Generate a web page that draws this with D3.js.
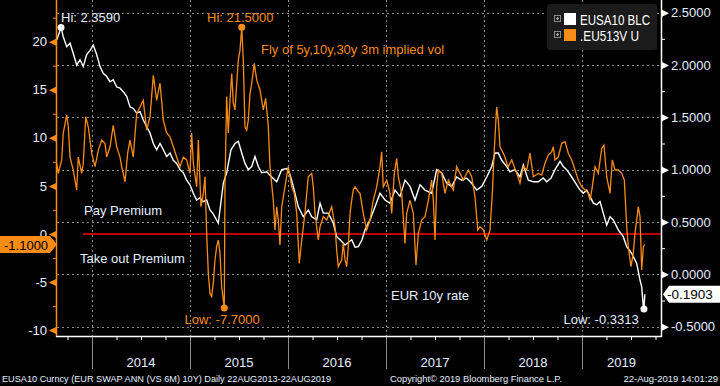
<!DOCTYPE html>
<html>
<head>
  <title>EUR 10y rate vs fly of 5y,10y,30y 3m implied vol</title>
  <script src="https://d3js.org/d3.v7.min.js"></script>
  <style>
    body { margin: 0; background: #000; }
    svg { display: block; font-family: "Liberation Sans", Arial, sans-serif; }
  </style>
</head>
<body>
  <svg id="chart"></svg>
  <script>
    // EUSA10 BLC - EUR 10y swap rate (right axis)
    const rateYears = [2013.641,2013.684,2013.707,2013.742,2013.776,2013.809,2013.844,2013.878,2013.911,2013.946,2013.980,
      2014.013,2014.048,2014.082,2014.115,2014.150,2014.184,2014.217,2014.252,2014.286,2014.319,2014.354,2014.388,2014.421,
      2014.456,2014.490,2014.523,2014.558,2014.592,2014.626,2014.660,2014.694,2014.728,2014.762,2014.796,2014.830,2014.864,
      2014.898,2014.932,2014.966,2015.000,2015.034,2015.068,2015.102,2015.136,2015.170,2015.204,2015.235,2015.289,2015.340,
      2015.374,2015.418,2015.459,2015.493,2015.528,2015.561,2015.595,2015.630,2015.663,2015.697,2015.732,2015.783,2015.834,
      2015.885,2015.936,2015.987,2016.020,2016.054,2016.105,2016.156,2016.207,2016.242,2016.293,2016.327,2016.360,2016.411,
      2016.462,2016.497,2016.531,2016.582,2016.650,2016.684,2016.718,2016.755,2016.786,2016.837,2016.888,2016.939,2016.990,
      2017.041,2017.092,2017.143,2017.194,2017.245,2017.296,2017.347,2017.398,2017.466,2017.517,2017.568,2017.619,2017.670,
      2017.721,2017.772,2017.823,2017.874,2017.926,2017.977,2018.028,2018.079,2018.112,2018.146,2018.181,2018.232,2018.265,
      2018.316,2018.367,2018.401,2018.452,2018.503,2018.554,2018.605,2018.640,2018.684,2018.724,2018.776,2018.809,2018.844,
      2018.895,2018.946,2018.980,2019.013,2019.048,2019.082,2019.115,2019.150,2019.184,2019.217,2019.252,2019.286,2019.319,
      2019.370,2019.421,2019.456,2019.507,2019.558,2019.592,2019.609,2019.626,2019.632,2019.641];
    const rateValues = [2.24,2.359,2.27,2.175,2.21,2.11,2.00,2.05,1.985,2.10,2.14,
      2.19,2.10,1.985,1.92,1.89,1.84,1.86,1.79,1.78,1.745,1.70,1.60,1.585,
      1.54,1.555,1.475,1.41,1.35,1.25,1.19,1.25,1.19,1.125,1.16,1.09,1.06,
      1.00,0.97,0.90,0.855,0.775,0.71,0.73,0.695,0.71,0.615,0.58,0.49,0.87,
      0.97,1.19,1.25,1.27,1.16,1.06,1.00,1.03,1.125,1.03,0.97,0.98,0.93,
      0.885,1.00,1.01,0.955,0.84,0.645,0.55,0.615,0.55,0.52,0.68,0.585,0.585,
      0.49,0.36,0.33,0.28,0.33,0.26,0.265,0.33,0.425,0.52,0.645,0.775,0.71,
      0.68,0.805,0.745,0.90,0.84,0.71,0.855,0.805,0.775,1.00,0.97,0.87,0.84,
      0.93,0.90,0.92,0.87,0.805,0.84,0.93,1.03,1.16,1.16,1.09,1.03,0.98,
      1.00,0.93,1.045,0.90,0.885,0.885,0.92,0.885,0.92,1.00,1.08,1.03,1.00,
      0.93,0.855,0.805,0.775,0.805,0.745,0.68,0.665,0.695,0.585,0.47,0.55,0.52,
      0.425,0.36,0.265,0.20,0.105,-0.055,-0.12,-0.31,-0.3313,-0.1903];

    // .EU513V U - fly of 5y,10y,30y 3m implied vol (left axis)
    const flyYears = [2013.640,2013.656,2013.691,2013.707,2013.742,2013.758,2013.776,2013.809,2013.844,2013.860,2013.895,
      2013.911,2013.936,2013.962,2013.997,2014.031,2014.064,2014.099,2014.133,2014.150,2014.184,2014.217,2014.252,2014.286,
      2014.303,2014.337,2014.364,2014.388,2014.421,2014.456,2014.490,2014.523,2014.558,2014.592,2014.626,2014.660,2014.694,
      2014.728,2014.762,2014.796,2014.830,2014.864,2014.898,2014.932,2014.966,2015.000,2015.017,2015.034,2015.068,2015.085,
      2015.112,2015.136,2015.153,2015.170,2015.187,2015.204,2015.221,2015.238,2015.255,2015.272,2015.289,2015.306,2015.323,
      2015.350,2015.357,2015.374,2015.391,2015.408,2015.426,2015.442,2015.459,2015.477,2015.493,2015.510,2015.528,2015.544,
      2015.561,2015.579,2015.595,2015.612,2015.630,2015.656,2015.681,2015.714,2015.748,2015.772,2015.799,2015.816,2015.850,
      2015.867,2015.885,2015.901,2015.918,2015.936,2015.969,2016.003,2016.038,2016.064,2016.089,2016.115,2016.140,2016.173,
      2016.207,2016.242,2016.258,2016.276,2016.309,2016.327,2016.360,2016.395,2016.446,2016.480,2016.497,2016.513,2016.548,
      2016.564,2016.582,2016.599,2016.615,2016.633,2016.650,2016.666,2016.684,2016.718,2016.735,2016.768,2016.803,2016.837,
      2016.870,2016.905,2016.939,2016.956,2016.972,2017.007,2017.041,2017.058,2017.085,2017.109,2017.126,2017.160,2017.194,
      2017.211,2017.245,2017.279,2017.306,2017.330,2017.364,2017.398,2017.432,2017.466,2017.483,2017.500,2017.517,2017.534,
      2017.568,2017.602,2017.636,2017.687,2017.721,2017.755,2017.789,2017.840,2017.874,2017.908,2017.936,2017.959,2017.993,
      2018.028,2018.061,2018.085,2018.105,2018.129,2018.146,2018.163,2018.197,2018.214,2018.232,2018.248,2018.283,2018.334,
      2018.367,2018.401,2018.436,2018.469,2018.503,2018.554,2018.589,2018.622,2018.656,2018.691,2018.707,2018.724,2018.758,
      2018.793,2018.827,2018.860,2018.895,2018.929,2018.962,2018.997,2019.031,2019.064,2019.082,2019.105,2019.133,2019.166,
      2019.201,2019.224,2019.252,2019.286,2019.309,2019.337,2019.370,2019.405,2019.432,2019.456,2019.472,2019.500,2019.523,
      2019.541,2019.558,2019.574,2019.592,2019.609,2019.626,2019.641];
    const flyValues = [7.35,6.3,7.7,10.5,12.4,11.15,8.0,6.65,4.57,8.0,6.3,
      7.35,12.2,11.15,8.4,7.0,8.7,9.77,9.4,8.0,9.07,11.3,9.07,8.0,
      7.0,5.43,8.4,9.77,8.0,12.55,13.2,13.9,10.8,12.2,16.5,13.9,15.7,
      11.85,10.5,10.1,9.07,8.0,7.0,8.0,7.7,6.3,10.5,7.35,4.9,9.77,
      2.83,4.22,5.95,0.1,-4.1,-6.2,-6.5,-5.1,-2.7,-1.33,-0.63,-2.0,-5.5,
      -7.7,4.9,14.3,10.5,13.9,16.7,13.6,12.9,15.7,18.1,19.1,21.5,18.1,
      11.15,10.8,11.85,14.6,15.7,17.75,16.0,15.0,12.9,14.1,11.15,7.0,3.5,
      0.4,2.83,1.45,-1.15,2.83,4.9,7.0,4.9,4.22,2.14,-3.06,-0.63,2.14,
      5.95,6.3,4.9,2.14,-0.63,0.75,1.8,1.45,2.83,0.75,-1.68,-3.4,-2.7,
      -0.98,-2.7,-3.4,-1.33,2.14,3.5,4.57,4.9,4.39,4.22,2.14,0.4,1.45,
      3.5,4.9,7.0,8.55,4.9,5.6,4.22,2.14,6.3,7.87,5.95,4.22,-0.98,
      2.14,3.5,2.14,-3.24,0.06,1.45,1.8,3.5,5.6,3.5,-0.63,4.9,6.65,
      6.3,4.22,5.6,4.57,7.0,6.3,5.6,6.65,5.95,3.87,0.4,0.75,0.4,
      -0.63,0.4,4.22,8.73,13.2,11.85,9.07,8.4,8.0,7.35,7.0,7.7,6.3,
      5.27,7.0,6.65,8.4,5.95,6.3,6.13,7.35,8.2,8.55,9.07,7.7,8.0,
      9.43,9.6,8.4,7.7,6.65,5.6,4.9,4.57,4.22,3.5,4.9,7.0,6.3,
      8.9,9.25,5.95,4.22,7.7,6.65,6.65,6.3,5.6,0.75,-1.33,-3.4,-2.0,
      0.06,1.45,2.83,1.8,-3.76,-1.33,-1.1];

    const leftTicks = [-10, -5, 0, 5, 10, 15, 20];
    const leftMinor = [-7.5, -2.5, 2.5, 7.5, 12.5, 17.5, 22.5];
    const rightTicks = [-0.5, 0, 0.5, 1.0, 1.5, 2.0, 2.5];
    const rightMinor = [-0.25, 0.25, 0.75, 1.25, 1.75, 2.25];
    const yearLabels = [2014, 2015, 2016, 2017, 2018, 2019];
    const quarterTicks = [2013.75, 2014.25, 2014.5, 2014.75, 2015.25, 2015.5, 2015.75, 2016.25, 2016.5, 2016.75,
      2017.25, 2017.5, 2017.75, 2018.25, 2018.5, 2018.75, 2019.25, 2019.5, 2019.75];

    const ORANGE = "#f98b17", WHITE = "#ffffff", LABEL = "#e4f0ff", GRID = "#8c8c8c";

    const svg = d3.select("#chart").attr("width", 720).attr("height", 386);
    svg.append("rect").attr("width", 720).attr("height", 386).attr("fill", "#000");

    const x = d3.scaleLinear().domain([2013.643, 2019.806]).range([57, 661]);
    const yL = d3.scaleLinear().domain([-10.62, 24.34]).range([336, 0]);
    const yR = d3.scaleLinear().domain([-0.589, 2.621]).range([336, 0]);

    // grid
    const grid = svg.append("g").attr("stroke", GRID).attr("stroke-dasharray", "2,3").attr("stroke-width", 1);
    grid.selectAll(".h").data(rightTicks).enter().append("line")
      .attr("x1", 57).attr("x2", 661)
      .attr("y1", d => Math.round(yR(d)) + 0.5).attr("y2", d => Math.round(yR(d)) + 0.5);
    grid.selectAll(".v").data(yearLabels).enter().append("line")
      .attr("x1", d => Math.round(x(d)) + 0.5).attr("x2", d => Math.round(x(d)) + 0.5)
      .attr("y1", 0).attr("y2", 336);

    // annotations behind lines
    const txt = (s, px, py, col, size) => svg.append("text").attr("x", px).attr("y", py)
      .attr("fill", col).attr("font-size", size || 13).text(s);

    txt("Pay Premium", 84, 215, LABEL);
    txt("Take out Premium", 80, 262.5, LABEL);
    txt("EUR 10y rate", 391, 299.5, LABEL);
    txt("Fly of 5y,10y,30y 3m implied vol", 261, 53.5, ORANGE);

    // zero line of the fly
    svg.append("line").attr("x1", 83).attr("x2", 661)
      .attr("y1", yL(0)).attr("y2", yL(0))
      .attr("stroke", "#ff0000").attr("stroke-width", 1.5);

    // series
    const rate = rateYears.map((t, i) => [t, rateValues[i]]);
    const fly = flyYears.map((t, i) => [t, flyValues[i]]);

    svg.append("path").datum(rate)
      .attr("fill", "none").attr("stroke", WHITE).attr("stroke-width", 1.4)
      .attr("d", d3.line().x(d => x(d[0])).y(d => yR(d[1])));
    svg.append("path").datum(fly)
      .attr("fill", "none").attr("stroke", ORANGE).attr("stroke-width", 1.3)
      .attr("d", d3.line().x(d => x(d[0])).y(d => yL(d[1])));

    // hi / low markers
    const rHi = rate[d3.maxIndex(rateValues)], rLo = rate[d3.minIndex(rateValues)];
    const fHi = fly[d3.maxIndex(flyValues)], fLo = fly[d3.minIndex(flyValues)];
    svg.append("circle").attr("cx", x(rHi[0])).attr("cy", yR(rHi[1])).attr("r", 3.5).attr("fill", WHITE);
    svg.append("circle").attr("cx", x(rLo[0])).attr("cy", yR(rLo[1])).attr("r", 3.5).attr("fill", WHITE);
    svg.append("circle").attr("cx", x(fHi[0])).attr("cy", yL(fHi[1])).attr("r", 3.5).attr("fill", ORANGE);
    svg.append("circle").attr("cx", x(fLo[0])).attr("cy", yL(fLo[1])).attr("r", 3.5).attr("fill", ORANGE);

    txt("Hi: " + rHi[1].toFixed(4), 61, 22, LABEL);
    txt("Hi: " + fHi[1].toFixed(4), 207, 22, ORANGE);
    txt("Low: " + fLo[1].toFixed(4), 184.5, 323.5, ORANGE);
    txt("Low: " + rLo[1].toFixed(4), 563.5, 323.5, LABEL);

    // left axis (fly)
    const gL = svg.append("g").attr("transform", "translate(57,0)")
      .call(d3.axisLeft(yL).tickValues(leftTicks).tickSize(0).tickPadding(10).tickFormat(d => String(d)));
    gL.select(".domain").remove();
    gL.selectAll("text").attr("fill", LABEL).attr("font-size", 13).attr("font-family", null);
    gL.selectAll(".tick").append("path").attr("d", "M0,-4L-8,0L0,4Z").attr("fill", ORANGE);
    const gLm = svg.append("g").attr("transform", "translate(57,0)")
      .call(d3.axisLeft(yL).tickValues(leftMinor).tickSize(4).tickFormat(""));
    gLm.select(".domain").remove();
    gLm.selectAll("line").attr("stroke", ORANGE);
    svg.append("line").attr("x1", 56.5).attr("x2", 56.5).attr("y1", 0).attr("y2", 337)
      .attr("stroke", ORANGE).attr("stroke-width", 1.5);

    // right axis (rate)
    const gR = svg.append("g").attr("transform", "translate(661,0)")
      .call(d3.axisRight(yR).tickValues(rightTicks).tickSize(0).tickPadding(10).tickFormat(d => d.toFixed(4)));
    gR.select(".domain").remove();
    gR.selectAll("text").attr("fill", LABEL).attr("font-size", 13).attr("font-family", null);
    gR.selectAll(".tick").append("path").attr("d", "M0,-4L8,0L0,4Z").attr("fill", WHITE);
    const gRm = svg.append("g").attr("transform", "translate(661,0)")
      .call(d3.axisRight(yR).tickValues(rightMinor).tickSize(4).tickFormat(""));
    gRm.select(".domain").remove();
    gRm.selectAll("line").attr("stroke", WHITE);
    svg.append("line").attr("x1", 661.5).attr("x2", 661.5).attr("y1", 0).attr("y2", 337)
      .attr("stroke", WHITE).attr("stroke-width", 1.5);

    // bottom axis
    const gB = svg.append("g").attr("transform", "translate(0,336)")
      .call(d3.axisBottom(x).tickValues(quarterTicks).tickSize(4).tickFormat(""));
    gB.select(".domain").remove();
    gB.selectAll("line").attr("stroke", WHITE);
    svg.append("g").selectAll("line").data(yearLabels).enter().append("line")
      .attr("x1", d => Math.round(x(d)) + 0.5).attr("x2", d => Math.round(x(d)) + 0.5)
      .attr("y1", 336).attr("y2", 369).attr("stroke", GRID).attr("stroke-width", 1);
    svg.append("line").attr("x1", 56).attr("x2", 662).attr("y1", 336.5).attr("y2", 336.5)
      .attr("stroke", WHITE).attr("stroke-width", 1.5);
    svg.append("g").selectAll("text").data(yearLabels).enter().append("text")
      .attr("x", d => (x(d) + Math.min(x(d + 1), 661)) / 2).attr("y", 366.5)
      .attr("text-anchor", "middle").attr("fill", LABEL).attr("font-size", 13)
      .text(d => d);

    // last value boxes
    const lastFly = fly[fly.length - 1], lastRate = rate[rate.length - 1];
    const yf = yL(lastFly[1]), yr = yR(lastRate[1]);
    svg.append("path").attr("fill", ORANGE)
      .attr("d", `M0,${yf - 8.5}H50L57,${yf}L50,${yf + 8.5}H0Z`);
    txt(lastFly[1].toFixed(4), 4, yf + 5, "#000");
    svg.append("path").attr("fill", WHITE)
      .attr("d", `M663,${yr}L669,${yr - 8.5}H720V${yr + 8.5}H669Z`);
    txt(lastRate[1].toFixed(4), 667, yr + 5, "#000", 13.5);

    // legend
    const lg = svg.append("g");
    lg.append("rect").attr("x", 547).attr("y", 4).attr("width", 110).attr("height", 46)
      .attr("rx", 3).attr("fill", "#1b1b1b");
    const legendItems = [["EUSA10 BLC", WHITE], [".EU513V U", ORANGE]];
    legendItems.forEach((it, i) => {
      const cy = 19 + i * 16;
      lg.append("rect").attr("x", 554.5).attr("y", cy - 3.5).attr("width", 6).attr("height", 6)
        .attr("fill", "none").attr("stroke", "#888").attr("stroke-width", 1);
      lg.append("path").attr("d", `M556,${cy - 0.5}h3M557.5,${cy - 2}v3`).attr("stroke", "#aaa").attr("stroke-width", 1);
      lg.append("rect").attr("x", 564).attr("y", cy - 6).attr("width", 12).attr("height", 12).attr("fill", it[1]);
      lg.append("text").attr("x", 580).attr("y", cy + 5.5).attr("fill", WHITE).attr("font-size", 14.5)
        .attr("textLength", i === 0 ? 70 : 59).attr("lengthAdjust", "spacingAndGlyphs").text(it[0]);
    });

    // footer
    svg.append("text").attr("x", 2).attr("y", 381.5).attr("fill", LABEL).attr("font-size", 9.5)
      .attr("textLength", 329).attr("lengthAdjust", "spacingAndGlyphs")
      .text("EUSA10 Curncy (EUR SWAP ANN (VS 6M) 10Y)  Daily 22AUG2013-22AUG2019");
    svg.append("text").attr("x", 390).attr("y", 381.5).attr("fill", LABEL).attr("font-size", 9.5)
      .attr("textLength", 172).attr("lengthAdjust", "spacingAndGlyphs")
      .text("Copyright\u00a9 2019 Bloomberg Finance L.P.");
    svg.append("text").attr("x", 718).attr("y", 381.5).attr("fill", LABEL).attr("font-size", 9.5)
      .attr("text-anchor", "end")
      .text("22-Aug-2019 14:01:29");
  </script>
</body>
</html>
